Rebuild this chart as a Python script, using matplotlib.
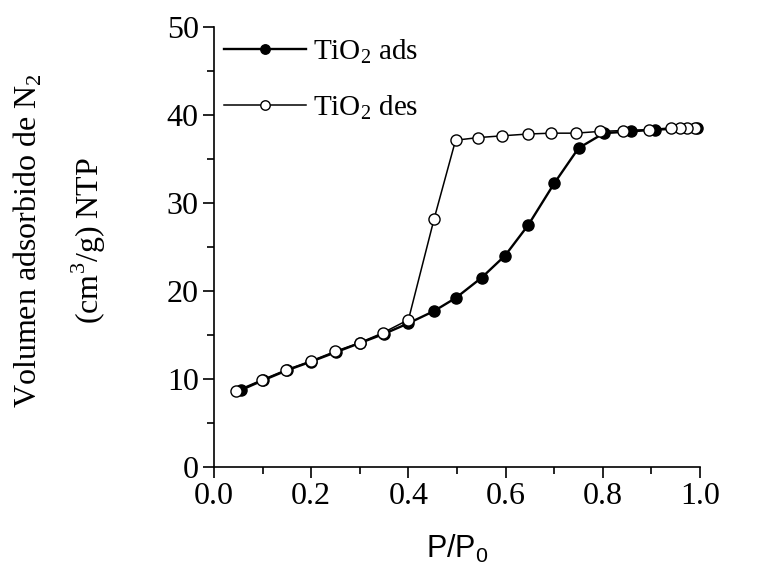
import matplotlib.pyplot as plt
from matplotlib.ticker import MultipleLocator

plt.rcParams['font.family'] = ['Liberation Serif', 'DejaVu Serif']

# adsorption branch (filled)
p_ads = [0.055, 0.10, 0.15, 0.20, 0.25, 0.30, 0.35, 0.40, 0.453, 0.498, 0.551,
         0.599, 0.647, 0.700, 0.750, 0.802, 0.857, 0.907, 0.993]
v_ads = [8.7, 9.8, 10.95, 11.95, 13.0, 14.05, 15.1, 16.3, 17.7, 19.2, 21.5,
         24.0, 27.5, 32.2, 36.2, 37.9, 38.1, 38.3, 38.5]

# desorption branch (open)
p_des = [0.99, 0.973, 0.959, 0.940, 0.894, 0.842, 0.794, 0.744, 0.693, 0.645,
         0.593, 0.544, 0.497, 0.453, 0.400, 0.347, 0.300, 0.249, 0.199, 0.148,
         0.098, 0.045]
v_des = [38.5, 38.5, 38.5, 38.5, 38.3, 38.2, 38.1, 37.9, 37.9, 37.8,
         37.6, 37.4, 37.1, 28.2, 16.7, 15.2, 14.1, 13.1, 12.0, 11.0,
         9.85, 8.6]

fig = plt.figure(figsize=(7.82, 5.80), dpi=100)
ax = fig.add_axes([0.2737, 0.1953, 0.6215, 0.7587])

ax.plot(p_ads, v_ads, '-o', color='black', lw=1.7, ms=8, mfc='black',
        mec='black', mew=1, label='TiO$_\\mathregular{2}$ ads')
ax.plot(p_des, v_des, '-o', color='black', lw=1.1, ms=8, mfc='white',
        mec='black', mew=1, label='TiO$_\\mathregular{2}$ des')

ax.set_xlim(0, 1.0)
ax.set_ylim(0, 50)
ax.xaxis.set_major_locator(MultipleLocator(0.2))
ax.xaxis.set_minor_locator(MultipleLocator(0.1))
ax.yaxis.set_major_locator(MultipleLocator(10))
ax.yaxis.set_minor_locator(MultipleLocator(5))
ax.xaxis.set_major_formatter(plt.FormatStrFormatter('%.1f'))
ax.tick_params(which='major', direction='out', length=8, width=1.2, labelsize=23, pad=3)
ax.tick_params(which='minor', direction='out', length=5, width=1.2)
ax.spines['top'].set_visible(False)
ax.spines['right'].set_visible(False)
ax.spines['left'].set_linewidth(1.2)
ax.spines['bottom'].set_linewidth(1.2)
for ln in ax.lines:
    ln.set_clip_on(False)

ax.set_xlabel('P/P$_\\mathregular{0}$', fontsize=22, family='Liberation Sans', labelpad=16)

fig.text(0.035, 0.585, 'Volumen adsorbido de N$_\\mathregular{2}$', rotation=90,
         fontsize=23, ha='center', va='center')
fig.text(0.113, 0.585, '(cm$^\\mathregular{3}$/g) NTP', rotation=90,
         fontsize=23, ha='center', va='center')

leg = ax.legend(loc='upper left', bbox_to_anchor=(0.0, 1.0), frameon=False,
                fontsize=21, handlelength=2.8, handletextpad=0.25,
                labelspacing=0.95, borderaxespad=0.0, borderpad=0.35,
                markerscale=0.85)

fig.savefig('out.png', dpi=100)
